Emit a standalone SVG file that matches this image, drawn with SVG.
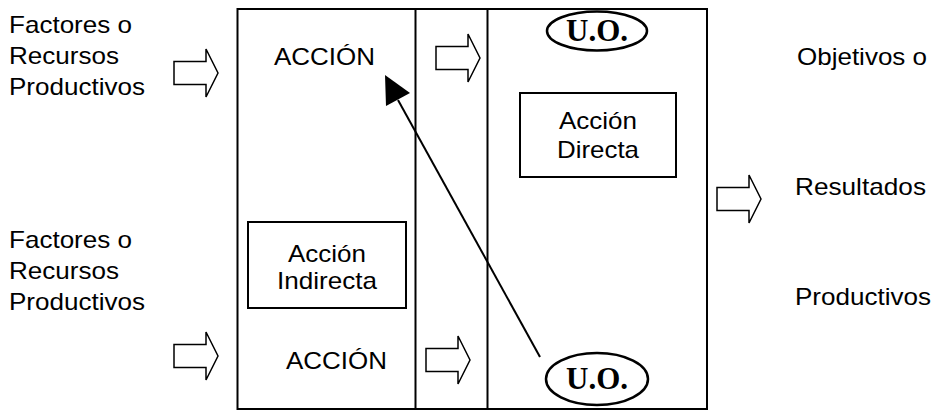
<svg xmlns="http://www.w3.org/2000/svg" xmlns:xlink="http://www.w3.org/1999/xlink" width="937" height="411" viewBox="0 0 937 411">
  <style>
    .lbl { font-family: "Liberation Sans", Arial, sans-serif; font-size: 24px; fill: #000; }
    .mid { text-anchor: middle; }
    .uo { font-family: "Liberation Serif", "Times New Roman", serif; font-size: 31px; font-weight: bold; text-anchor: middle; fill: #000; }
    .box { fill: #fff; stroke: #000; stroke-width: 2; }
    .oval { fill: #fff; stroke: #000; stroke-width: 2.5; }
    .line { stroke: #000; stroke-width: 2; fill: none; }
    .block { fill: #fff; stroke: #000; stroke-width: 1.5; stroke-linejoin: miter; }
  </style>
  <defs>
    <!-- hollow block arrow, origin at the tail centre -->
    <path id="blockArrow" class="block" d="M0,-11.5 H32 V-24 L44,0 L32,24 V11.5 H0 Z"/>
  </defs>

  <rect width="937" height="411" fill="#fff"/>

  <!-- frame with three columns -->
  <g id="frame">
    <rect class="box" x="237.5" y="9" width="469.5" height="400"/>
    <line class="line" x1="415.5" y1="9" x2="415.5" y2="409"/>
    <line class="line" x1="487.5" y1="9" x2="487.5" y2="409"/>
  </g>

  <!-- input labels -->
  <g id="inputTop">
    <text class="lbl" x="9" y="33" textLength="123" lengthAdjust="spacingAndGlyphs">Factores o</text>
    <text class="lbl" x="9" y="64" textLength="110" lengthAdjust="spacingAndGlyphs">Recursos</text>
    <text class="lbl" x="9" y="95" textLength="136" lengthAdjust="spacingAndGlyphs">Productivos</text>
  </g>
  <g id="inputBottom">
    <text class="lbl" x="9" y="248" textLength="123" lengthAdjust="spacingAndGlyphs">Factores o</text>
    <text class="lbl" x="9" y="279" textLength="110" lengthAdjust="spacingAndGlyphs">Recursos</text>
    <text class="lbl" x="9" y="310" textLength="136" lengthAdjust="spacingAndGlyphs">Productivos</text>
  </g>

  <!-- action labels -->
  <g id="accionTop">
    <text class="lbl" x="274" y="65" textLength="101" lengthAdjust="spacingAndGlyphs">ACCIÓN</text>
  </g>
  <g id="accionBottom">
    <text class="lbl" x="286" y="369" textLength="101" lengthAdjust="spacingAndGlyphs">ACCIÓN</text>
  </g>

  <g id="accionIndirecta">
    <rect class="box" x="248" y="222" width="158" height="86"/>
    <text class="lbl mid" x="327" y="262" textLength="78" lengthAdjust="spacingAndGlyphs">Acción</text>
    <text class="lbl mid" x="327" y="289" textLength="100" lengthAdjust="spacingAndGlyphs">Indirecta</text>
  </g>

  <g id="accionDirecta">
    <rect class="box" x="520" y="93" width="156" height="84"/>
    <text class="lbl mid" x="598" y="129" textLength="78" lengthAdjust="spacingAndGlyphs">Acción</text>
    <text class="lbl mid" x="598" y="158" textLength="82" lengthAdjust="spacingAndGlyphs">Directa</text>
  </g>

  <!-- operating units -->
  <g id="uoTop">
    <ellipse class="oval" cx="597" cy="31" rx="50" ry="19.5"/>
    <text class="uo" x="597" y="41">U.O.</text>
  </g>
  <g id="uoBottom">
    <ellipse class="oval" cx="597" cy="379" rx="51" ry="26"/>
    <text class="uo" x="597" y="389">U.O.</text>
  </g>

  <!-- output labels -->
  <g id="outputs">
    <text class="lbl" x="797" y="65" textLength="130" lengthAdjust="spacingAndGlyphs">Objetivos o</text>
    <text class="lbl" x="795" y="195" textLength="131" lengthAdjust="spacingAndGlyphs">Resultados</text>
    <text class="lbl" x="795" y="305" textLength="136" lengthAdjust="spacingAndGlyphs">Productivos</text>
  </g>

  <!-- connectors -->
  <g id="connectors">
    <use xlink:href="#blockArrow" href="#blockArrow" transform="translate(174,73)"/>
    <use xlink:href="#blockArrow" href="#blockArrow" transform="translate(436,58)"/>
    <use xlink:href="#blockArrow" href="#blockArrow" transform="translate(717,199)"/>
    <use xlink:href="#blockArrow" href="#blockArrow" transform="translate(174,356)"/>
    <use xlink:href="#blockArrow" href="#blockArrow" transform="translate(426,360)"/>
    <line x1="540" y1="357" x2="398" y2="100" class="line"/>
    <path d="M385,75 L410,93 L386,106 Z" fill="#000"/>
  </g>
</svg>
